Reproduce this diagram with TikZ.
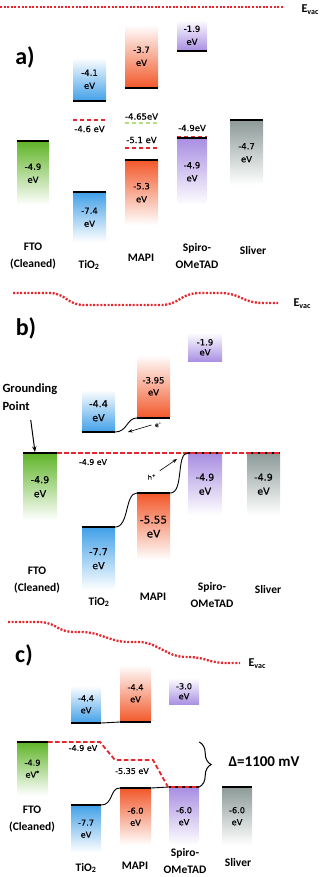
\documentclass[tikz,border=0pt]{standalone}
\usepackage{fontspec}
\setmainfont{Carlito}
\newfontfamily\lblfont[FakeBold=0.7]{DejaVu Sans}
\usepackage{tikz}
\usetikzlibrary{arrows.meta,decorations.pathreplacing}
\definecolor{tiob}{RGB}{66,160,232}
\definecolor{mapio}{RGB}{242,88,42}
\definecolor{spirop}{RGB}{168,142,226}
\definecolor{ftog}{RGB}{96,180,40}
\definecolor{silg}{RGB}{140,154,152}
\definecolor{lvlred}{RGB}{232,36,44}
\definecolor{lvlgreen}{RGB}{176,222,128}

\begin{document}
\begin{tikzpicture}[
  x=1pt, y=-1pt, font=\lblfont\fontsize{8.5}{13}\selectfont,
  band/.style={rectangle, inner sep=0pt, align=center},
  cb/.style={band, top color=white, bottom color=#1, anchor=south},
  vb/.style={band, top color=#1, bottom color=white, anchor=north},
  bandline/.style={line width=1.5pt},
  fermi/.style={lvlred, line width=1.8pt, dash pattern=on 4.5pt off 2.5pt},
  evac/.style={lvlred, line width=2.3pt, dash pattern=on 2pt off 1.6pt, rounded corners=8pt},
  evacl/.style={anchor=west, font=\bfseries\fontsize{12}{14}\selectfont},
  mat/.style={align=center, font=\bfseries\fontsize{11.5}{17}\selectfont},
  panel/.style={font=\bfseries\fontsize{24}{26}\selectfont},
  lvl/.style={inner sep=1pt},
  wire/.style={line width=0.9pt},
  arr/.style={-{Stealth[length=2mm]}, thick}
]
\useasboundingbox (0,0) rectangle (322,877);

% a)
\draw[evac] (0,7) -- (283,7);
\node[evacl] (evacA) at (298,10) {E\textsubscript{vac}};
\node[panel] (panA) at (25,57) {a)};
\node[vb=ftog, minimum width=32, minimum height=64] (ftoA) at (33,141) {-4.9\\eV};
\node[cb=tiob, minimum width=33, minimum height=43] (tioAc) at (89.5,101) {-4.1\\eV};
\node[vb=tiob, minimum width=33, minimum height=50] (tioAv) at (89.5,192) {-7.4\\eV};
\node[cb=mapio, minimum width=33, minimum height=63] (mapiAc) at (141.5,88) {-3.7\\eV};
\node[vb=mapio, minimum width=33, minimum height=65] (mapiAv) at (141.5,160) {-5.3\\eV};
\node[cb=spirop, minimum width=30, minimum height=31] (spiroAc) at (192,51) {-1.9\\eV};
\node[vb=spirop, minimum width=30, minimum height=67] (spiroAv) at (192,138) {-4.9\\eV};
\node[vb=silg, minimum width=33, minimum height=65] (silA) at (246.5,120) {-4.7\\eV};
\node[mat] (ftoAl) at (33,256) {FTO\\(Cleaned)};
\node[mat] (tioAl) at (89,265) {TiO\textsubscript{2}};
\node[mat] (mapiAl) at (141,258) {MAPI};
\node[mat] (spiroAl) at (197,256) {Spiro-\\OMeTAD};
\node[mat] (silAl) at (253,251) {Sliver};

% b)
\draw[evac] (13,293) -- (58,293) -- (75,305) -- (170,305) -- (190,293) -- (230,293) -- (253,303) -- (278,303);
\node[evacl] (evacB) at (290,304) {E\textsubscript{vac}};
\node[panel] (panB) at (26,328) {b)};
\begin{scope}[font=\lblfont\fontsize{9.5}{14}\selectfont]
\node[vb=ftog, minimum width=34, minimum height=67] (ftoB) at (40,453) {-4.9\\eV};
\node[cb=tiob, minimum width=33, minimum height=42] (tioBc) at (98.5,432) {-4.4\\eV};
\node[vb=tiob, minimum width=33, minimum height=63] (tioBv) at (98.5,527) {-7.7\\eV};
\node[cb=mapio, minimum width=33, minimum height=63, font=\lblfont\fontsize{8.5}{12}\selectfont] (mapiBc) at (153.5,418) {-3.95\\eV};
\node[vb=mapio, minimum width=33, minimum height=67, font=\lblfont\fontsize{10.5}{14}\selectfont] (mapiBv) at (153.5,493) {-5.55\\eV};
\node[cb=spirop, minimum width=34, minimum height=29, font=\lblfont\fontsize{8.5}{10}\selectfont] (spiroBc) at (205,362) {-1.9\\eV};
\node[vb=spirop, minimum width=34, minimum height=62] (spiroBv) at (205,453) {-4.9\\eV};
\node[vb=silg, minimum width=33, minimum height=62] (silB) at (263.5,453) {-4.9\\eV};
\end{scope}
\node[mat] (ftoBl) at (37,580) {FTO\\(Cleaned)};
\node[mat] (tioBl) at (99,602) {TiO\textsubscript{2}};
\node[mat] (mapiBl) at (153,597) {MAPI};
\node[mat] (spiroBl) at (212,595) {Spiro-\\OMeTAD};
\node[mat] (silBl) at (268,590) {Sliver};
\node[mat, anchor=west, align=left, font=\bfseries\fontsize{12.5}{18}\selectfont] (gnd) at (-1,397) {Grounding\\Point};

% c)
\draw[evac] (8,622) -- (48,622) -- (65,632) -- (90,632) -- (120,642) -- (147,642) -- (177,657) -- (197,657) -- (217,663) -- (240,663);
\node[evacl] (evacC) at (245,664) {E\textsubscript{vac}};
\node[panel] (panC) at (24,655) {c)};
\begin{scope}[font=\lblfont\fontsize{8.2}{12}\selectfont]
\node[vb=ftog, minimum width=31, minimum height=53] (ftoC) at (32.5,742) {-4.9\\eV\textsuperscript{*}};
\node[cb=tiob, minimum width=30, minimum height=37] (tioCc) at (86,723) {-4.4\\eV};
\node[vb=tiob, minimum width=30, minimum height=47] (tioCv) at (86,805) {-7.7\\eV};
\node[cb=mapio, minimum width=31, minimum height=57] (mapiCc) at (135.5,722) {-4.4\\eV};
\node[vb=mapio, minimum width=31, minimum height=57] (mapiCv) at (135.5,788) {-6.0\\eV};
\node[cb=spirop, minimum width=30, minimum height=27, font=\lblfont\fontsize{8.2}{10}\selectfont] (spiroCc) at (184,705) {-3.0\\eV};
\node[vb=spirop, minimum width=30, minimum height=58] (spiroCv) at (184,787) {-6.0\\eV};
\node[vb=silg, minimum width=30, minimum height=58] (silC) at (237,787) {-6.0\\eV};
\end{scope}
\node[mat] (ftoCl) at (32,819) {FTO\\(Cleaned)};
\node[mat] (tioCl) at (86,868) {TiO\textsubscript{2}};
\node[mat] (mapiCl) at (135,866) {MAPI};
\node[mat] (spiroCl) at (185,861) {Spiro-\\OMeTAD};
\node[mat] (silCl) at (238,862) {Sliver};

\foreach \n in {tioAc,mapiAc,spiroAc,tioBc,mapiBc,tioCc,mapiCc}
  \draw[bandline] (\n.south west) -- (\n.south east);
\foreach \n in {ftoA,tioAv,mapiAv,spiroAv,silA,ftoB,tioBv,mapiBv,spiroBv,silB,ftoC,tioCv,mapiCv,spiroCv,silC}
  \draw[bandline] (\n.north west) -- (\n.north east);

% levels of a)
\draw[fermi] (tioAc.west |- 0,120) -- (tioAc.east |- 0,120);
\node[lvl] (tioAf) at (89.5,129) {-4.6 eV};
\draw[fermi, lvlgreen] (mapiAc.west |- 0,123) -- (mapiAc.east |- 0,123);
\node[lvl] (mapiAg) at (141.5,116.5) {-4.65eV};
\draw[fermi] (mapiAc.west |- 0,148) -- (mapiAc.east |- 0,148);
\node[lvl] (mapiAf) at (141.5,140) {-5.1 eV};
\draw[fermi] (spiroAv.west |- 0,136.5) -- (spiroAv.east |- 0,136.5);
\node[lvl] (spiroAf) at (192,128) {-4.9eV};

% b) junctions
\draw[fermi] (ftoB.north east) -- (silB.north east);
\node[lvl, font=\lblfont\fontsize{7.8}{9}\selectfont] (ftoBf) at (93,462) {-4.9 eV};
\draw[wire] (tioBc.south east) .. controls +(12,0) and +(-10,0) .. (mapiBc.south west);
\draw[wire] (tioBv.north east) .. controls +(14,0) and +(-12,0) .. (mapiBv.north west);
\draw[wire] (mapiBv.north east) .. controls +(14,0) and +(-12,0) .. (spiroBv.north west);
\node[font=\lblfont\fontsize{6}{7}\selectfont] (eB) at (158,425) {e\textsuperscript{-}};
\coordinate (eTip) at (128,432);
\draw[-{Stealth[length=1.6mm]}, semithick] (eB.west) -- (eTip);
\node[font=\lblfont\fontsize{6.5}{7}\selectfont] (hB) at (152,477) {h\textsuperscript{+}};
\coordinate (hTip) at (177,459);
\draw[-{Stealth[length=1.6mm]}, semithick] (hB.north east) -- (hTip);
\coordinate (gndTip) at (35,452);
\draw[arr, line width=1pt, shorten <=6pt] (gnd.south) -- (gndTip);

% c) junctions
\draw[wire] (tioCc.south east) .. controls +(9,0) and +(-9,0) .. (mapiCc.south west);
\draw[wire] (tioCv.north east) .. controls +(12,0) and +(-10,0) .. (mapiCv.north west);
\draw[wire] (mapiCv.north east) .. controls +(9,0) and +(-9,0) .. (spiroCv.north west);
\draw[fermi] (ftoC.north east) -- (100,742) -- (115,760) -- (153,760) -- (168,787) -- (spiroCv.north east);
\node[lvl, font=\lblfont\fontsize{8}{9}\selectfont] (ftoCf) at (83,748) {-4.9 eV};
\node[lvl, font=\lblfont\fontsize{8}{9}\selectfont] (mapiCf) at (132,771) {-5.35 eV};
\draw[decorate, decoration={brace, amplitude=12pt}, line width=1pt] (spiroCv.north east |- ftoC.north) -- (spiroCv.north east);
\node[anchor=west, font=\bfseries\fontsize{15}{17}\selectfont] (delta) at (225,762) {Δ=1100 mV};
\end{tikzpicture}
\end{document}
